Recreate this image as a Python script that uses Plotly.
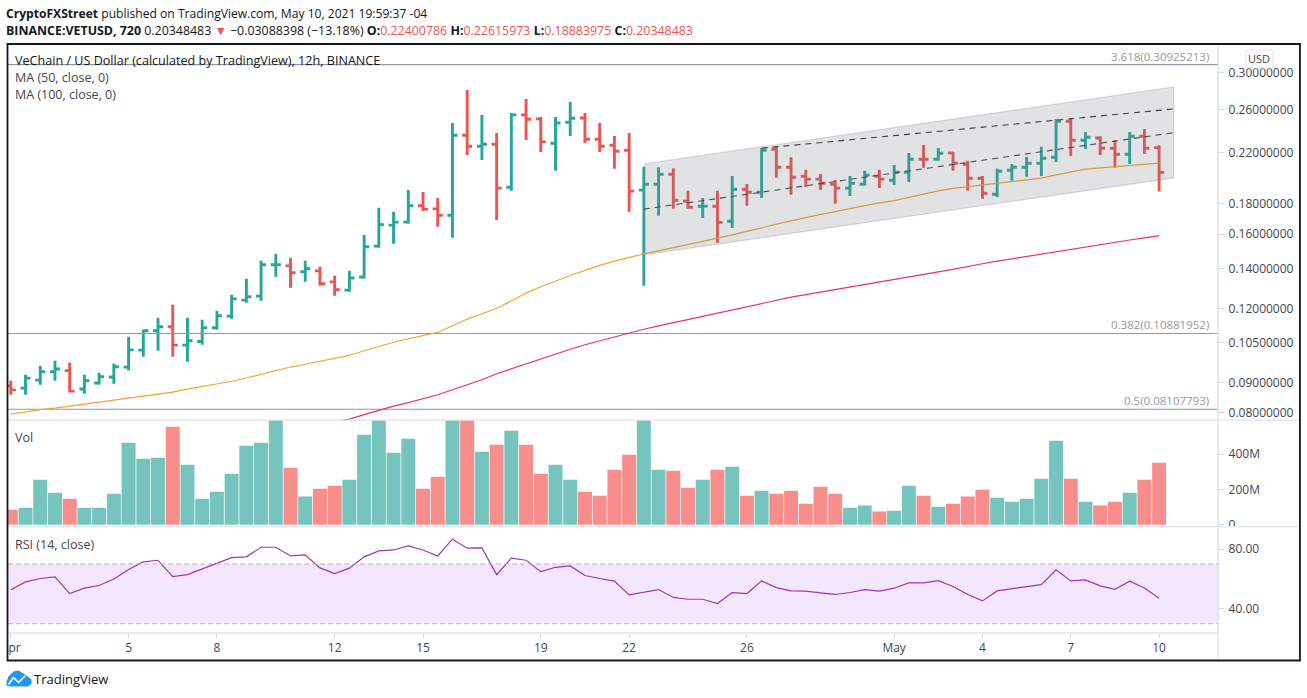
import math
import pandas as pd
import plotly.graph_objects as go

# ---- data ----
PRICE_E4 = 1e-4      # the ohlc lists are in ten-thousandths of a dollar
PRICE_E5 = 1e-5      # the moving averages and channel in hundred-thousandths
open_e4 = [888,880,908,938,942,877,898,919,955,1020,1100,1117,1040,1055,1113,1164,1239,1258,1421,1415,
           1383,1388,1330,1288,1355,1528,1658,1677,1787,1766,1723,2351,2252,2270,1921,2544,2505,2279,2472,2514,
           2314,2261,2218,1899,1943,2020,1819,1784,1784,1683,1906,1884,2226,2076,2005,1982,1943,1914,1943,2005,
           1974,2036,2142,2142,2195,2100,1989,1869,2052,2076,2109,2158,2482,2305,2326,2235,2184,2342,2240.0786]
high_e4 = [906,927,960,979,971,927,934,968,1074,1104,1157,1217,1157,1148,1189,1265,1346,1443,1483,1460,
           1443,1410,1362,1388,1596,1773,1746,1901,1886,1843,2466,2803,2544,2372,2564,2707,2524,2524,2675,2564,
           2466,2345,2372,2079,2076,2068,1894,1843,1894,2007,1946,2238,2252,2158,2055,2023,1976,2007,2047,2055,
           2095,2195,2264,2238,2203,2128,2007,2063,2103,2161,2247,2505,2514,2381,2342,2308,2381,2409,2261.5973]
low_e4 = [858,858,892,906,865,861,892,895,942,994,1018,994,975,1042,1104,1152,1226,1236,1356,1300,
          1330,1310,1260,1280,1346,1518,1542,1666,1752,1647,1578,2178,2136,1692,1894,2308,2203,2047,2345,2282,
          2203,2063,1746,1310,1719,1766,1766,1705,1548,1640,1787,1843,1992,1865,1923,1901,1801,1857,1931,1916,
          1938,1961,2071,2128,2047,1894,1836,1850,1969,2000,2007,2119,2169,2229,2178,2071,2103,2186,1888.3975]
close_e4 = [874,915,938,948,870,906,920,956,1021,1100,1117,1040,1058,1113,1166,1245,1255,1421,1422,1378,
            1399,1320,1290,1350,1524,1660,1677,1787,1764,1723,2351,2252,2270,1914,2544,2502,2291,2466,2511,2314,
            2252,2209,1892,1943,2020,1826,1777,1785,1676,1906,1884,2217,2076,1997,1982,1951,1914,1951,2013,1982,
            2036,2142,2141,2192,2108,1989,1876,2044,2076,2109,2150,2482,2305,2332,2235,2184,2342,2235,2034.8483]
ma50_e5 = [7953,8031,8093,8140,8204,8252,8316,8381,8446,8522,8595,8662,8764,8849,8935,9040,9153,9289,9416,9552,
           9657,9770,9884,9992,10176,10348,10518,10662,10786,10926,11213,11509,11748,11992,12356,12731,13046,13354,
           13631,13909,14182,14415,14629,14829,15003,15179,15357,15537,15761,15965,16170,16404,16642,16856,17100,
           17287,17476,17694,17888,18076,18238,18466,18719,18938,19123,19257,19385,19483,19634,19764,19895,20152,
           20388,20603,20707,20812,20909,21031,21088]
ma100_first_bar = 20
ma100_e5 = [7576,7635,7725,7800,7938,8071,8204,8316,8446,8578,8747,8918,9093,9307,9490,9676,9865,10039,10236,
            10416,10579,10745,10913,11062,11205,11345,11491,11639,11794,11946,12095,12251,12404,12530,12657,12786,
            12915,13046,13179,13312,13442,13563,13695,13829,13963,14125,14270,14410,14544,14681,14823,14968,15120,
            15250,15381,15513,15646,15780,15921]
volume_m = [85,96,255,181,147,96,96,175,464,374,379,555,340,147,187,289,447,464,620,323,
            159,204,221,255,509,650,408,487,204,272,700,640,413,453,532,453,289,340,255,187,
            164,311,396,800,311,306,209,255,311,328,164,192,175,192,119,215,175,96,108,74,
            79,221,164,102,119,159,198,153,130,147,260,476,260,130,108,130,181,255,351]
rsi = [52.7,58.0,60.3,61.4,50.2,53.8,55.6,60.0,66.3,71.4,72.5,61.6,62.9,66.7,70.1,74.3,74.8,81.2,81.2,75.4,
       76.1,67.4,63.6,67.2,74.8,78.8,79.4,82.1,79.4,75.4,86.6,80.6,80.8,62.9,73.9,72.5,64.9,67.8,68.7,62.3,
       60.3,58.5,49.3,51.3,52.9,47.6,46.4,46.4,43.5,50.9,50.2,58.7,54.2,52.0,51.8,50.7,49.6,50.9,52.9,51.8,
       53.8,57.4,57.4,58.9,54.9,49.6,45.3,52.0,53.6,54.9,56.2,66.1,58.7,59.4,55.4,53.1,58.5,54.0,47.1]
channel_x = ["2021-04-22 12:00", "2021-05-10 12:00"]
channel_top_e5 = [21031, 28358]
channel_bottom_e5 = [14772, 19918]
channel_mid_e5 = [17640, 23748]
upper_x = ["2021-04-26 12:00", "2021-05-10 12:00"]
upper_e5 = [22353, 26037]
fib_labels = ["3.618", "0.382", "0.5"]
fib_levels = [0.30925213, 0.10881952, 0.08107793]
price_ticks = [0.30, 0.26, 0.22, 0.18, 0.16, 0.14, 0.12, 0.105, 0.09, 0.08]
volume_ticks = [0, 200, 400]
volume_labels = ["0", "200M", "400M"]
rsi_ticks = [40, 80]
rsi_bounds = [30, 70]
date_ticks = ["2021-04-01","2021-04-05","2021-04-08","2021-04-12","2021-04-15","2021-04-19","2021-04-22",
              "2021-04-26","2021-05-01","2021-05-04","2021-05-07","2021-05-10"]
date_labels = ["Apr","5","8","12","15","19","22","26","May","4","7","10"]
start_date = "2021-04-01"
x_range = ["2021-03-31 21:43", "2021-05-12 00:00"]

# ---- styles ----
GREEN, RED = "#26a69a", "#ef5350"
VOL_GREEN, VOL_RED = "#75c5be", "#f88e8c"
TEXT = "#434651"
GREY = "#9598a1"
SEP = "#e0e3eb"
FONT = "Open Sans"

W, H = 1307, 698
L, R, T, B = 7.5, 1218.0, 44.0, 633.5
PW, PH = R - L, B - T
px = lambda x: (x - L) / PW
py = lambda y: (B - y) / PH

dates = pd.date_range(start_date, periods=len(open_e4), freq="12h")
e4 = lambda a: [v * PRICE_E4 for v in a]
e5 = lambda a: [v * PRICE_E5 for v in a]

fig = go.Figure()
for lvl in fib_levels:
    fig.add_trace(go.Scatter(x=x_range, y=[lvl, lvl], mode="lines", line=dict(color=GREY, width=1.2), yaxis="y", hoverinfo="skip"))
fig.add_trace(go.Ohlc(x=dates, open=e4(open_e4), high=e4(high_e4), low=e4(low_e4), close=e4(close_e4),
                      tickwidth=0.34, yaxis="y",
                      increasing=dict(line=dict(color=GREEN, width=2.9)),
                      decreasing=dict(line=dict(color=RED, width=2.9))))
fig.add_trace(go.Scatter(x=dates, y=e5(ma50_e5), mode="lines", line=dict(color="#f9a32b", width=1.2), yaxis="y"))
fig.add_trace(go.Scatter(x=dates[ma100_first_bar:], y=e5(ma100_e5), mode="lines", line=dict(color="#ec2f70", width=1.2), yaxis="y"))
# channel
tops = e5(channel_top_e5); bots = e5(channel_bottom_e5)
fig.add_trace(go.Scatter(x=channel_x + channel_x[::-1], y=tops + bots[::-1], mode="lines", fill="toself",
                         fillcolor="rgba(120,123,134,0.22)", line=dict(color="rgba(120,123,134,0.25)", width=1.2), yaxis="y"))
fig.add_trace(go.Scatter(x=channel_x, y=e5(channel_mid_e5), mode="lines", line=dict(color="#4a4c55", width=1.1, dash="6px,5px"), yaxis="y"))
fig.add_trace(go.Scatter(x=upper_x, y=e5(upper_e5), mode="lines", line=dict(color="#3c3e46", width=1.1, dash="6px,5px"), yaxis="y"))
# volume
vol_colors = [VOL_GREEN if c >= o else VOL_RED for o, c in zip(open_e4, close_e4)]
fig.add_trace(go.Bar(x=dates, y=volume_m, marker=dict(color=vol_colors, line=dict(width=0)), yaxis="y2"))
# rsi
fig.add_trace(go.Scatter(x=dates, y=rsi, mode="lines", line=dict(color="#a136b5", width=1.2), yaxis="y3"))

lines = []
def hline(y, x0=L, x1=1300, color=SEP, width=1.3):
    lines.append(dict(type="line", xref="paper", yref="paper", x0=px(x0), x1=px(x1), y0=py(y), y1=py(y),
                      line=dict(color=color, width=width)))
# RSI band
lines.append(dict(type="rect", xref="paper", yref="y3", x0=0, x1=1, y0=rsi_bounds[0], y1=rsi_bounds[1],
                  fillcolor="#f4e6fd", line=dict(width=0), layer="below"))
for b in rsi_bounds:
    lines.append(dict(type="line", xref="paper", yref="y3", x0=0, x1=1, y0=b, y1=b,
                      line=dict(color="#b6b3bd", width=1, dash="5px,3px")))
# cover the bottom of the clipped "0" and left of "Apr"
lines.append(dict(type="rect", xref="paper", yref="paper", x0=px(1220), x1=px(1298), y0=py(533), y1=py(527),
                  fillcolor="white", line=dict(width=0)))
lines.append(dict(type="rect", xref="paper", yref="paper", x0=px(0), x1=px(6.5), y0=py(655), y1=py(636),
                  fillcolor="white", line=dict(width=0)))
hline(420.5); hline(527); hline(633.5, x1=R)
lines.append(dict(type="line", xref="paper", yref="paper", x0=1, x1=1, y0=py(661), y1=py(T), line=dict(color=SEP, width=1.3)))
# frame
lines.append(dict(type="rect", xref="paper", yref="paper", x0=px(7), x1=px(1300), y0=py(661), y1=py(44),
                  line=dict(color="#131722", width=1.8)))
# USD button
bx0, bx1, by0, by1 = px(1246), px(1273), py(68), py(50)
rx, ry = 3 / PW, 3 / PH
lines.append(dict(type="path", xref="paper", yref="paper", fillcolor="white", line=dict(color="#e0e3eb", width=1),
                  path=f"M {bx0+rx} {by1} L {bx1-rx} {by1} Q {bx1} {by1} {bx1} {by1-ry} L {bx1} {by0+ry} Q {bx1} {by0} {bx1-rx} {by0} "
                       f"L {bx0+rx} {by0} Q {bx0} {by0} {bx0} {by0+ry} L {bx0} {by1-ry} Q {bx0} {by1} {bx0+rx} {by1} Z"))
# TradingView mark
def pts(seq):
    return " ".join(("%s %s %s" % (c, px(a), py(b))) for c, a, b in seq)
lines.append(dict(type="path", xref="paper", yref="paper", fillcolor="#2196f3", line=dict(width=0),
                  path=pts([("M", 9, 687), ("L", 6, 686), ("L", 6, 682), ("L", 8, 677), ("L", 13, 672), ("L", 18, 671), ("L", 23, 674), ("L", 26, 676),
                             ("L", 31, 680), ("L", 31, 684), ("L", 28, 687)]) + " Z"))
lines.append(dict(type="path", xref="paper", yref="paper", line=dict(color="white", width=1.6),
                  path=pts([("M", 8, 685), ("L", 13, 678), ("L", 18, 683), ("L", 25, 676)])))

def text(x, y, s, size=12, color=TEXT, xanchor="left", family=FONT):
    return dict(xref="paper", yref="paper", x=px(x), y=py(y), text=s, showarrow=False, xanchor=xanchor, yanchor="middle",
                align="left", font=dict(size=size, color=color, family=family), borderpad=0, borderwidth=0)
r = lambda s: f'<span style="color:{RED}">{s}</span>'
ann = [
    text(5, 13, "<b>CryptoFXStreet</b> published on TradingView.com, May 10, 2021 19:59:37 -04", size=12.1, color="#131722"),
    text(5, 30, "<b>BINANCE:VETUSD, 720</b> 0.20348483 " + r("▼") + " −0.03088398 (−13.18%) <b>O:</b>" + r("0.22400786")
         + " <b>H:</b>" + r("0.22615973") + " <b>L:</b>" + r("0.18883975") + " <b>C:</b>" + r("0.20348483"), size=12.4, color="#131722"),
    text(15, 60.5, "VeChain / US Dollar (calculated by TradingView), 12h, BINANCE", size=12.6, color="#131722"),
    text(15, 77.5, "MA (50, close, 0)", size=12.5),
    text(15, 95, "MA (100, close, 0)", size=12.5),
    text(15, 438, "Vol", size=12.5),
    text(15, 545, "RSI (14, close)", size=12.5),
    text(1259.5, 58.5, "USD", size=11, xanchor="center"),
    text(34, 680, "TradingView", size=13, color="#131722"),
]
for lab, lvl in zip(fib_labels, fib_levels):
    ann.append(dict(xref="paper", yref="y", x=px(1210), y=math.log10(lvl), text=f"{lab}({lvl:.8f})", showarrow=False,
                    xanchor="right", yanchor="bottom", font=dict(size=11.5, color=GREY, family=FONT), borderpad=0))

tick_font = dict(size=12, color=TEXT, family=FONT)
yax = dict(side="right", anchor="x", showgrid=False, zeroline=False, showline=True, linecolor=SEP, linewidth=1.3,
           ticks="outside", ticklen=5, tickcolor="#d6d8de", tickfont=tick_font, ticklabelstandoff=2)
to_log = lambda price: math.log10(price)
fig.update_layout(
    width=W, height=H, margin=dict(l=L, r=W - R, t=T, b=H - B, pad=0, autoexpand=False),
    paper_bgcolor="white", plot_bgcolor="white", showlegend=False, bargap=0.05, hovermode=False,
    xaxis=dict(type="date", range=x_range, anchor="y3", tickmode="array", tickvals=date_ticks, ticktext=date_labels,
               showgrid=False, zeroline=False, showline=False, ticks="outside", ticklen=4, tickcolor="#d6d8de",
               tickfont=tick_font, rangeslider=dict(visible=False)),
    yaxis=dict(type="log", domain=[py(420.5), 1], range=[to_log(0.0777), to_log(0.3351)], tickmode="array",
               tickvals=price_ticks, ticktext=[f"{t:.8f}" for t in price_ticks], **yax),
    yaxis2=dict(domain=[py(527), py(420.5)], range=[-11, 592], tickmode="array", tickvals=volume_ticks, ticktext=volume_labels, **yax),
    yaxis3=dict(domain=[0, py(527)], range=[23.8, 95.05], tickmode="array", tickvals=rsi_ticks,
                ticktext=[f"{t:.2f}" for t in rsi_ticks], **yax),
    shapes=lines, annotations=ann,
)
fig.write_html("out.html", config=dict(displayModeBar=False), post_script="document.body.style.margin='0';")
